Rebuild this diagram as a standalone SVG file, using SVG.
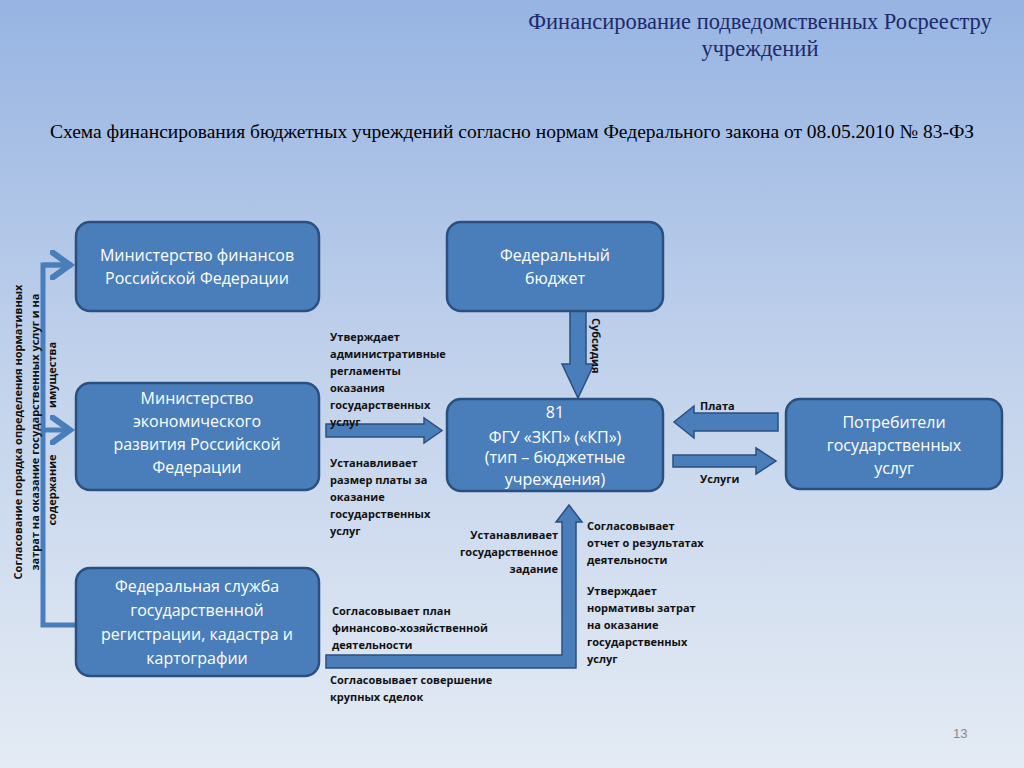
<svg xmlns="http://www.w3.org/2000/svg" width="1024" height="768" viewBox="0 0 1024 768">
<defs>
<linearGradient id="bg" x1="0" y1="0" x2="0" y2="1">
<stop offset="0" stop-color="#97b4e2"/><stop offset="0.5" stop-color="#c3d3ec"/><stop offset="1" stop-color="#e4ebf4"/>
</linearGradient>
<marker id="chev" markerWidth="6" markerHeight="6" refX="4" refY="3" orient="auto" markerUnits="strokeWidth">
<path d="M0.5,0.5 L4,3 L0.5,5.5" fill="none" stroke="#4a7ebb" stroke-width="1.2" stroke-linecap="round"/>
</marker>
<style>
.box{fill:#4a7ebb;stroke:#2b4f7f;stroke-width:2.5}
.arr{fill:#4a7ebb;stroke:#2b4f7f;stroke-width:1.5}
.nt{font-family:"Open Sans","Noto Sans",sans-serif;font-size:16px;fill:#fff;text-anchor:middle}
.lb{font-family:"Open Sans","Noto Sans",sans-serif;font-size:11px;font-weight:bold;fill:#111}
.ttl{font-family:"Liberation Serif",serif;fill:#1d2a6b}
</style>
</defs>
<rect width="1024" height="768" fill="url(#bg)"/>
<text class="ttl" x="760" y="29" font-size="22.5" text-anchor="middle">Финансирование подведомственных Росреестру</text>
<text class="ttl" x="760" y="56" font-size="22.5" text-anchor="middle">учреждений</text>
<text x="512" y="138" font-family="Liberation Serif,serif" font-size="19.5" fill="#000" text-anchor="middle">Схема финансирования бюджетных учреждений  согласно нормам Федерального закона от 08.05.2010 № 83-ФЗ</text>

<g id="connectors">
<path class="arr" d="M570,311 H586 V364 H594 L578,398 L562,364 H570 Z"/>
<path class="arr" d="M326,424 H424 V418 L442,430.5 L424,443 V437 H326 Z"/>
<path class="arr" d="M778,413 H694 V406 L674,422 L694,438 V431 H778 Z"/>
<path class="arr" d="M673,455 H756 V448 L776,461 L756,474 V467 H673 Z"/>
<path class="arr" d="M326,655 H562 V522 H556 L569,505 L582,522 H576 V668 H326 Z"/>
<path d="M72,265 H43 V625 H76" fill="none" stroke="#4a7ebb" stroke-width="5"/>
<path d="M43,265 H70" fill="none" stroke="#4a7ebb" stroke-width="5" marker-end="url(#chev)"/>
<path d="M43,430 H70" fill="none" stroke="#4a7ebb" stroke-width="5" marker-end="url(#chev)"/>
</g>

<g id="minfin"><rect class="box" x="76" y="222" width="243" height="89" rx="14"/>
<text class="nt" x="197" y="261">Министерство финансов</text><text class="nt" x="197" y="284">Российской Федерации</text></g>
<g id="budget"><rect class="box" x="447" y="222" width="216" height="89" rx="14"/>
<text class="nt" x="555" y="261">Федеральный</text><text class="nt" x="555" y="284">бюджет</text></g>
<g id="minek"><rect class="box" x="76" y="383" width="243" height="107" rx="14"/>
<text class="nt" x="197" y="404">Министерство</text><text class="nt" x="197" y="427">экономического</text>
<text class="nt" x="197" y="450">развития Российской</text><text class="nt" x="197" y="473">Федерации</text></g>
<g id="fgu"><rect class="box" x="447" y="399" width="216" height="92" rx="14"/>
<text class="nt" x="555" y="418">81</text><text class="nt" x="555" y="443">ФГУ «ЗКП» («КП»)</text>
<text class="nt" x="555" y="463" font-size="13" fill="#e8eef8">(тип – бюджетные</text><text class="nt" x="555" y="485" font-size="13" fill="#e8eef8">учреждения)</text></g>
<g id="consumers"><rect class="box" x="786" y="399" width="216" height="90" rx="14"/>
<text class="nt" x="894" y="428">Потребители</text><text class="nt" x="894" y="451">государственных</text><text class="nt" x="894" y="474">услуг</text></g>
<g id="rosreestr"><rect class="box" x="76" y="568" width="243" height="108" rx="14"/>
<text class="nt" x="197" y="592">Федеральная служба</text><text class="nt" x="197" y="616">государственной</text>
<text class="nt" x="197" y="640">регистрации, кадастра и</text><text class="nt" x="197" y="664">картографии</text></g>

<g id="labels">
<text class="lb" x="330" y="341">Утверждает</text><text class="lb" x="330" y="358">административные</text>
<text class="lb" x="330" y="375">регламенты</text><text class="lb" x="330" y="392">оказания</text>
<text class="lb" x="330" y="409">государственных</text><text class="lb" x="330" y="426">услуг</text>
<text class="lb" x="330" y="467">Устанавливает</text><text class="lb" x="330" y="484">размер платы за</text>
<text class="lb" x="330" y="501">оказание</text><text class="lb" x="330" y="518">государственных</text><text class="lb" x="330" y="535">услуг</text>
<text class="lb" transform="translate(592,318) rotate(90)">Субсидия</text>
<text class="lb" x="700" y="410">Плата</text>
<text class="lb" x="700" y="483">Услуги</text>
<g text-anchor="end"><text class="lb" x="558" y="539">Устанавливает</text><text class="lb" x="558" y="556">государственное</text><text class="lb" x="558" y="573">задание</text></g>
<text class="lb" x="587" y="530">Согласовывает</text><text class="lb" x="587" y="547">отчет о результатах</text><text class="lb" x="587" y="564">деятельности</text>
<text class="lb" x="587" y="595">Утверждает</text><text class="lb" x="587" y="612">нормативы затрат</text>
<text class="lb" x="587" y="629">на оказание</text><text class="lb" x="587" y="646">государственных</text><text class="lb" x="587" y="663">услуг</text>
<text class="lb" x="332" y="615">Согласовывает план</text><text class="lb" x="332" y="632">финансово-хозяйственной</text><text class="lb" x="332" y="649">деятельности</text>
<text class="lb" x="330" y="684">Согласовывает совершение</text><text class="lb" x="330" y="701">крупных сделок</text>
<g text-anchor="middle">
<text class="lb" transform="translate(22,432) rotate(-90)">Согласование порядка определения нормативных</text>
<text class="lb" transform="translate(39,432) rotate(-90)">затрат на оказание государственных услуг и на</text>
<text class="lb" transform="translate(56,490) rotate(-90)">содержание</text>
<text class="lb" transform="translate(56,375) rotate(-90)">имущества</text>
</g>
</g>
<text x="953" y="738" font-family="Liberation Sans,sans-serif" font-size="13" fill="#888">13</text>
</svg>
